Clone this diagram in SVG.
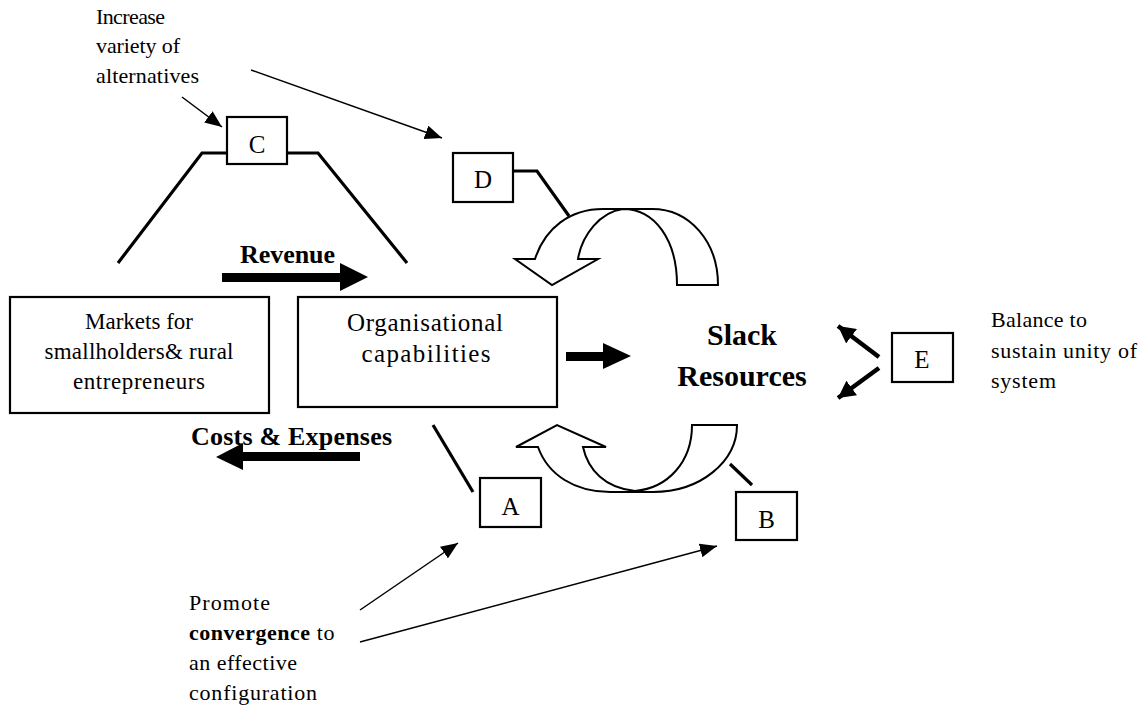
<svg xmlns="http://www.w3.org/2000/svg" width="1141" height="708" viewBox="0 0 1141 708">
<style>
.box{fill:#fff;stroke:#000;stroke-width:2.2}
.t{font-family:"Liberation Serif","Times New Roman",serif;fill:#000}
.lbl{font-size:23px}
.note{font-size:22px}
.b{font-weight:bold}
.let{font-size:25px;text-anchor:middle}
.mid{text-anchor:middle}
.thin{fill:none;stroke:#000;stroke-width:1.5}
.thick{fill:none;stroke:#000;stroke-width:3.2}
.curve{fill:#fff;stroke:#000;stroke-width:2;stroke-linejoin:miter}
</style>
<defs>
<marker id="ah" markerUnits="userSpaceOnUse" markerWidth="18" markerHeight="14" refX="17" refY="7" orient="auto">
<path d="M0,0 L17,7 L0,14 z" fill="#000"/>
</marker>
<marker id="ahb" markerUnits="userSpaceOnUse" markerWidth="18" markerHeight="18" refX="17" refY="9" orient="auto">
<path d="M0,0 L17,9 L0,18 z" fill="#000"/>
</marker>
</defs>
<rect width="1141" height="708" fill="#fff"/>

<g id="connectors">
<polyline class="thick" points="118,263 202,153 227,153"/>
<polyline class="thick" points="287,153 318,153 407,263"/>
<polyline class="thick" points="513,171 537,171 569,216"/>
<line class="thick" x1="433" y1="425" x2="473" y2="492"/>
<line class="thick" x1="730" y1="464" x2="752" y2="485"/>
<line class="thin" x1="182" y1="97" x2="222" y2="127" marker-end="url(#ah)"/>
<line class="thin" x1="251" y1="70" x2="442" y2="138" marker-end="url(#ah)"/>
<line class="thin" x1="360" y1="610" x2="458" y2="543" marker-end="url(#ah)"/>
<line class="thin" x1="360" y1="642" x2="717" y2="546" marker-end="url(#ah)"/>
<line x1="879" y1="357" x2="838" y2="326" stroke="#000" stroke-width="4.5" marker-end="url(#ahb)"/>
<line x1="879" y1="368" x2="838" y2="398" stroke="#000" stroke-width="4.5" marker-end="url(#ahb)"/>
<polygon points="222,273 340,273 340,263 368,277 340,291 340,282 222,282" fill="#000"/>
<polygon points="360,452 243,452 243,443 216,457 243,470 243,461 360,461" fill="#000"/>
<polygon points="566,352 603,352 603,343 631,356 603,369 603,361 566,361" fill="#000"/>
</g>

<g id="curve-top">
<path class="curve" d="M 677 285 C 677 240 655 209 623 209 C 600 212 582 235 578 259 L 598 259 L 552 285 L 515 259 L 535 259 C 545 228 570 209 603 209 L 652 209 C 690 209 718 242 718 285 Z"/>
</g>

<g id="curve-bottom">
<path class="curve" d="M 692 425 C 692 462 668 488 635 491 C 605 488 588 470 583 447 L 606 447 L 557 425 L 516 447 L 538 447 C 548 475 575 492 610 492 L 653 492 C 700 492 737 462 737 425 Z"/>
</g>

<g id="node-markets">
<rect class="box" x="10" y="297" width="259" height="116"/>
<text class="t lbl mid" x="139" y="329" textLength="108">Markets for</text>
<text class="t lbl mid" x="139" y="359" textLength="189">smallholders&amp; rural</text>
<text class="t lbl mid" x="139" y="389" textLength="132">entrepreneurs</text>
</g>

<g id="node-org">
<rect class="box" x="298" y="297" width="259" height="110"/>
<text class="t mid" font-size="25" x="425" y="331" textLength="156">Organisational</text>
<text class="t mid" font-size="25" x="426" y="362" textLength="129">capabilities</text>
</g>

<g id="node-slack">
<text class="t b mid" font-size="30" x="742" y="345">Slack</text>
<text class="t b mid" font-size="30" x="742" y="386">Resources</text>
</g>

<g id="label-revenue">
<text class="t b" font-size="26" x="240" y="263" textLength="95">Revenue</text>
</g>
<g id="label-costs">
<text class="t b" font-size="26" x="191" y="445" textLength="201">Costs &amp; Expenses</text>
</g>

<g id="node-C">
<rect class="box" x="227" y="117" width="60" height="47"/>
<text class="t let" x="257" y="153">C</text>
</g>
<g id="node-D">
<rect class="box" x="453" y="153" width="60" height="49"/>
<text class="t let" x="483" y="188">D</text>
</g>
<g id="node-A">
<rect class="box" x="480" y="478" width="61" height="49"/>
<text class="t let" x="510.5" y="515">A</text>
</g>
<g id="node-B">
<rect class="box" x="736" y="492" width="61" height="48"/>
<text class="t let" x="766.5" y="528">B</text>
</g>
<g id="node-E">
<rect class="box" x="892" y="333" width="61" height="49"/>
<text class="t let" x="922" y="368">E</text>
</g>

<g id="note-variety">
<text class="t note" x="96" y="24" textLength="69">Increase</text>
<text class="t note" x="96" y="53" textLength="84">variety of</text>
<text class="t note" x="96" y="83" textLength="103">alternatives</text>
</g>

<g id="note-balance">
<text class="t note" x="991" y="327" textLength="96">Balance to</text>
<text class="t note" x="991" y="358" textLength="146">sustain unity of</text>
<text class="t note" x="991" y="388" textLength="65">system</text>
</g>

<g id="note-convergence">
<text class="t note" x="189" y="610" textLength="81">Promote</text>
<text class="t note" x="189" y="640"><tspan font-weight="bold" textLength="121">convergence</tspan><tspan textLength="24"> to</tspan></text>
<text class="t note" x="189" y="670" textLength="108">an effective</text>
<text class="t note" x="189" y="700" textLength="128">configuration</text>
</g>
</svg>
